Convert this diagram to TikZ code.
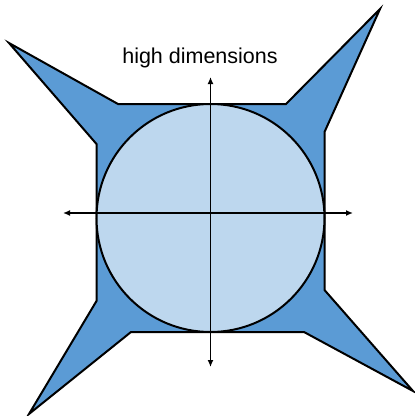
\documentclass[tikz,border=0pt]{standalone}
\usepackage{fontspec}
\setmainfont{Liberation Sans}
\usetikzlibrary{arrows.meta}
\definecolor{outerblue}{HTML}{5B9BD5}
\definecolor{innerblue}{HTML}{BDD7EE}
\begin{document}
\begin{tikzpicture}[x=1pt,y=-1pt,
  shapeline/.style={draw=black,line width=2pt,line join=miter},
  axisline/.style={draw=black,line width=1.5pt,{Latex[length=7pt,width=6pt]}-{Latex[length=7pt,width=6pt]}}]
\useasboundingbox (0,0) rectangle (415,416);
% star-like square
\path[shapeline,fill=outerblue]
  (118,104) -- (286,104) -- (380,9) -- (324.5,132) -- (324.5,290) -- (413,391)
  -- (304,332) -- (131,332) -- (29,414) -- (96.5,301) -- (96.5,144) -- (9,43) -- cycle;
% inscribed circle
\path[shapeline,fill=innerblue] (210.5,218) circle[radius=114];
% axes
\coordinate (xl) at (63,213);
\coordinate (xr) at (353,213);
\coordinate (yt) at (210.5,77);
\coordinate (yb) at (210.5,367);
\draw[axisline] (xl) -- (xr);
\draw[axisline] (yb) -- (yt);
\node[anchor=base,inner sep=0pt,font=\fontsize{21.5}{24}\selectfont] (title) at (200,63) {high dimensions};
\end{tikzpicture}
\end{document}
